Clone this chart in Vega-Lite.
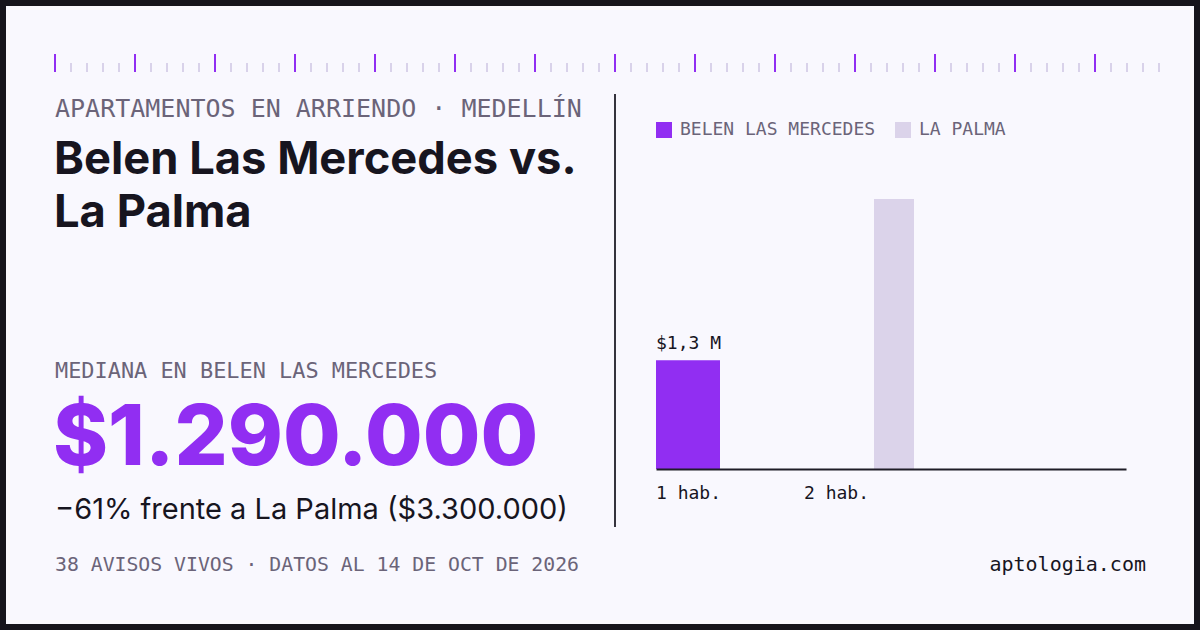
{
  "$schema": "https://vega.github.io/schema/vega-lite/v6.json",
  "width": 1200,
  "height": 630,
  "padding": 0,
  "autosize": {"type": "fit", "contains": "padding"},
  "background": "#f9f8fe",
  "view": {"fill": "#f9f8fe", "stroke": "#16141c", "strokeWidth": 12},
  "config": {
    "view": {"fill": "#f9f8fe", "stroke": "#16141c", "strokeWidth": 12},
    "font": "Inter"
  },
  "datasets": {
    "bars": [
      {"rooms": "1 hab.", "series": "BELEN LAS MERCEDES", "value": 1330000, "label": "$1,3 M"},
      {"rooms": "2 hab.", "series": "LA PALMA", "value": 3300000, "label": ""}
    ],
    "ruler": [
      {"i": 0}, {"i": 1}, {"i": 2}, {"i": 3}, {"i": 4}, {"i": 5}, {"i": 6}, {"i": 7}, {"i": 8}, {"i": 9},
      {"i": 10}, {"i": 11}, {"i": 12}, {"i": 13}, {"i": 14}, {"i": 15}, {"i": 16}, {"i": 17}, {"i": 18}, {"i": 19},
      {"i": 20}, {"i": 21}, {"i": 22}, {"i": 23}, {"i": 24}, {"i": 25}, {"i": 26}, {"i": 27}, {"i": 28}, {"i": 29},
      {"i": 30}, {"i": 31}, {"i": 32}, {"i": 33}, {"i": 34}, {"i": 35}, {"i": 36}, {"i": 37}, {"i": 38}, {"i": 39},
      {"i": 40}, {"i": 41}, {"i": 42}, {"i": 43}, {"i": 44}, {"i": 45}, {"i": 46}, {"i": 47}, {"i": 48}, {"i": 49},
      {"i": 50}, {"i": 51}, {"i": 52}, {"i": 53}, {"i": 54}, {"i": 55}, {"i": 56}, {"i": 57}, {"i": 58}, {"i": 59},
      {"i": 60}, {"i": 61}, {"i": 62}, {"i": 63}, {"i": 64}, {"i": 65}, {"i": 66}, {"i": 67}, {"i": 68}, {"i": 69}
    ]
  },
  "resolve": {
    "scale": {"x": "independent", "y": "independent"},
    "axis": {"x": "independent", "y": "independent"}
  },
  "layer": [
    {
      "data": {"name": "ruler"},
      "transform": [{"filter": "datum.i % 5 != 0"}],
      "mark": {"type": "rule", "color": "#d9d2ea", "strokeWidth": 2},
      "encoding": {
        "x": {"field": "i", "type": "quantitative", "axis": null, "scale": {"domain": [0, 69], "range": [55, 1159], "nice": false, "zero": false}},
        "y": {"datum": 0, "type": "quantitative", "axis": null, "scale": {"domain": [0, 1], "range": [72, 54], "nice": false}},
        "y2": {"datum": 0.5}
      }
    },
    {
      "data": {"name": "ruler"},
      "transform": [{"filter": "datum.i % 5 == 0"}],
      "mark": {"type": "rule", "color": "#912ef2", "strokeWidth": 2},
      "encoding": {
        "x": {"field": "i", "type": "quantitative", "axis": null, "scale": {"domain": [0, 69], "range": [55, 1159], "nice": false, "zero": false}},
        "y": {"datum": 0, "type": "quantitative", "axis": null, "scale": {"domain": [0, 1], "range": [72, 54], "nice": false}},
        "y2": {"datum": 1}
      }
    },
    {
      "data": {"values": [{}]},
      "mark": {"type": "rule", "color": "#35333d", "strokeWidth": 2},
      "encoding": {"x": {"value": 615}, "y": {"value": 94}, "y2": {"value": 527}}
    },
    {
      "data": {"values": [{"t": "APARTAMENTOS EN ARRIENDO · MEDELLÍN"}]},
      "mark": {"type": "text", "x": 55, "y": 117, "align": "left", "baseline": "alphabetic", "font": "DejaVu Sans Mono", "fontSize": 25, "color": "#6b6479"},
      "encoding": {"text": {"field": "t"}}
    },
    {
      "data": {"values": [{"t": ["Belen Las Mercedes vs.", "La Palma"]}]},
      "mark": {"type": "text", "x": 54, "y": 174, "align": "left", "baseline": "alphabetic", "font": "Inter", "fontWeight": 700, "fontSize": 45.3, "lineHeight": 53, "color": "#17151f"},
      "encoding": {"text": {"field": "t"}}
    },
    {
      "data": {"values": [{"t": "MEDIANA EN BELEN LAS MERCEDES"}]},
      "mark": {"type": "text", "x": 55, "y": 378, "align": "left", "baseline": "alphabetic", "font": "DejaVu Sans Mono", "fontSize": 21.9, "color": "#6b6479"},
      "encoding": {"text": {"field": "t"}}
    },
    {
      "data": {"values": [{"t": "$1.290.000"}]},
      "mark": {"type": "text", "x": 53, "y": 465, "align": "left", "baseline": "alphabetic", "font": "Inter", "fontWeight": 800, "fontSize": 83.5, "color": "#912ef2"},
      "encoding": {"text": {"field": "t"}}
    },
    {
      "data": {"values": [{"t": "−61% frente a La Palma ($3.300.000)"}]},
      "mark": {"type": "text", "x": 55, "y": 519, "align": "left", "baseline": "alphabetic", "font": "Inter", "fontWeight": 400, "fontSize": 29, "color": "#17151f"},
      "encoding": {"text": {"field": "t"}}
    },
    {
      "data": {"values": [{"t": "38 AVISOS VIVOS · DATOS AL 14 DE OCT DE 2026"}]},
      "mark": {"type": "text", "x": 55, "y": 571, "align": "left", "baseline": "alphabetic", "font": "DejaVu Sans Mono", "fontSize": 19.8, "color": "#6b6479"},
      "encoding": {"text": {"field": "t"}}
    },
    {
      "data": {"values": [{"t": "aptologia.com"}]},
      "mark": {"type": "text", "x": 1146, "y": 571, "align": "right", "baseline": "alphabetic", "font": "DejaVu Sans Mono", "fontSize": 20, "color": "#17151f"},
      "encoding": {"text": {"field": "t"}}
    },
    {
      "data": {"name": "bars"},
      "transform": [{"filter": "datum.series == 'BELEN LAS MERCEDES'"}],
      "mark": {"type": "bar", "width": 64},
      "encoding": {
        "x": {
          "field": "rooms", "type": "nominal",
          "scale": {"domain": ["1 hab.", "2 hab."], "range": [656, 1126], "paddingInner": 0, "paddingOuter": 0.588, "align": 0},
          "axis": {
            "orient": "bottom", "offset": -161, "title": null, "ticks": false,
            "labelAlign": "left", "labelAngle": 0, "labelOffset": -74, "labelFont": "DejaVu Sans Mono", "labelFontSize": 18, "labelColor": "#17151f", "labelPadding": 15,
            "domainColor": "#1f1d27", "domainWidth": 2, "grid": false, "zindex": 1
          }
        },
        "xOffset": {"field": "series", "type": "nominal", "scale": {"type": "band", "domain": ["BELEN LAS MERCEDES", "LA PALMA"], "range": [3, 119], "paddingInner": 0, "paddingOuter": 0}},
        "y": {"field": "value", "type": "quantitative", "axis": null, "scale": {"domain": [0, 3300000], "range": [469, 199], "nice": false}},
        "color": {
          "field": "series", "type": "nominal",
          "scale": {"domain": ["BELEN LAS MERCEDES", "LA PALMA"], "range": ["#912ef2", "#dbd3ea"]},
          "legend": {
            "orient": "none", "legendX": 655, "legendY": 121, "direction": "horizontal", "title": null,
            "symbolType": "square", "symbolSize": 256, "symbolStrokeWidth": 0, "symbolOpacity": 1,
            "labelFont": "DejaVu Sans Mono", "labelFontSize": 18, "labelColor": "#6b6479", "labelOffset": 7, "labelLimit": 400,
            "columnPadding": 18, "padding": 0, "offset": 0
          }
        }
      }
    },
    {
      "data": {"name": "bars"},
      "transform": [{"filter": "datum.series == 'LA PALMA'"}],
      "mark": {"type": "bar", "width": 40},
      "encoding": {
        "x": {
          "field": "rooms", "type": "nominal",
          "scale": {"domain": ["1 hab.", "2 hab."], "range": [656, 1126], "paddingInner": 0, "paddingOuter": 0.588, "align": 0},
          "axis": null
        },
        "xOffset": {"field": "series", "type": "nominal", "scale": {"type": "band", "domain": ["BELEN LAS MERCEDES", "LA PALMA"], "range": [3, 119], "paddingInner": 0, "paddingOuter": 0}},
        "y": {"field": "value", "type": "quantitative", "axis": null, "scale": {"domain": [0, 3300000], "range": [469, 199], "nice": false}},
        "color": {"field": "series", "type": "nominal"}
      }
    },
    {
      "data": {"name": "bars"},
      "transform": [{"filter": "datum.label != ''"}],
      "mark": {"type": "text", "align": "left", "baseline": "alphabetic", "dy": -11, "font": "DejaVu Sans Mono", "fontSize": 18, "color": "#17151f"},
      "encoding": {
        "x": {
          "field": "rooms", "type": "nominal", "bandPosition": 0,
          "scale": {"domain": ["1 hab.", "2 hab."], "range": [656, 1126], "paddingInner": 0, "paddingOuter": 0.588, "align": 0},
          "axis": null
        },
        "y": {"field": "value", "type": "quantitative", "axis": null, "scale": {"domain": [0, 3300000], "range": [469, 199], "nice": false}},
        "text": {"field": "label"}
      }
    }
  ]
}
